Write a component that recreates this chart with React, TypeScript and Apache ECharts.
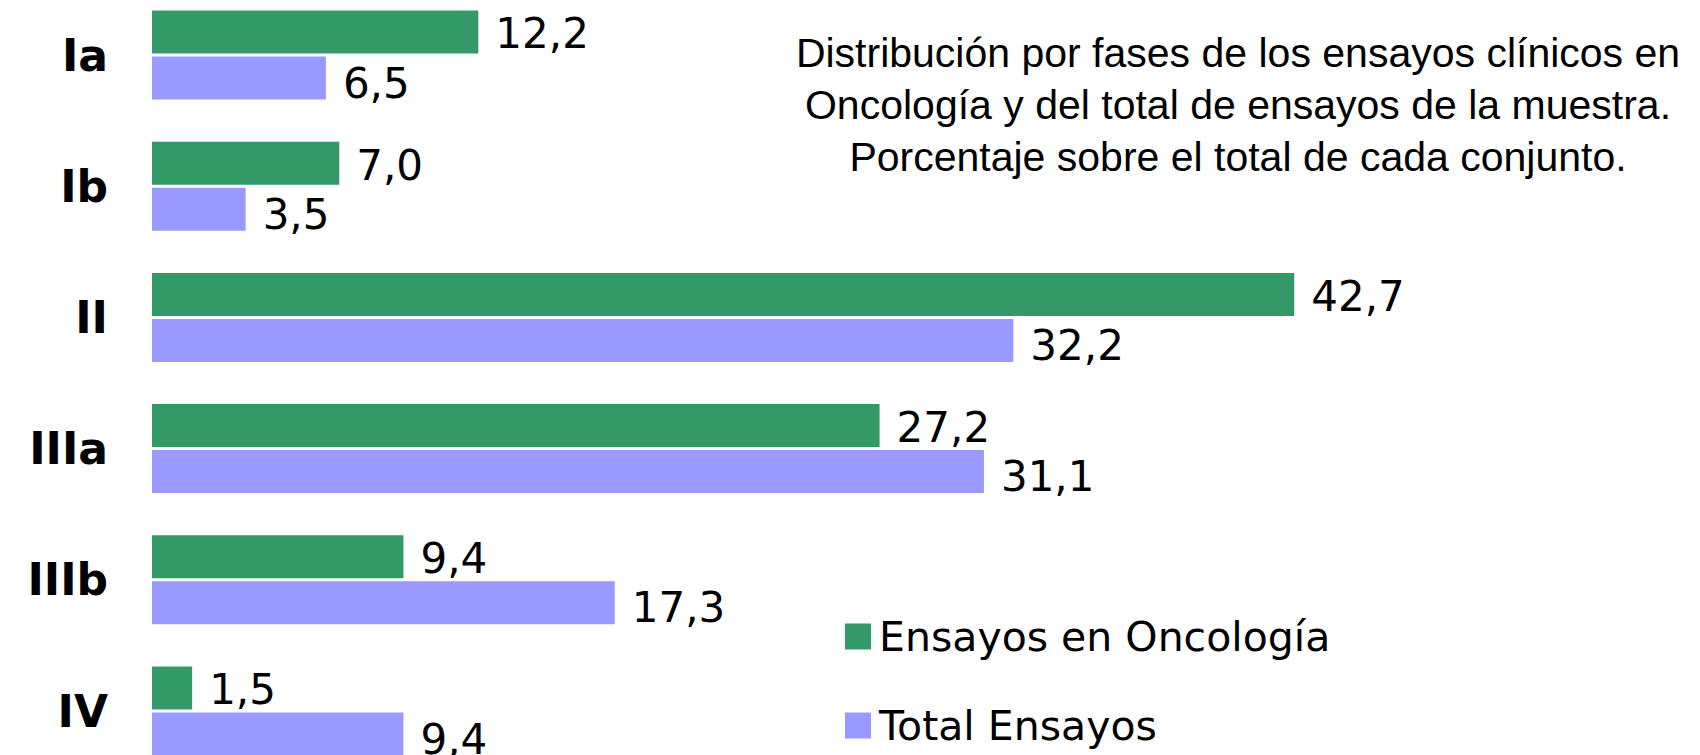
import React, { useEffect, useRef } from "react";
import * as echarts from "echarts";

const categories = ["Ia", "Ib", "II", "IIIa", "IIIb", "IV"];
const oncologia = [12.2, 7.0, 42.7, 27.2, 9.4, 1.5];
const total = [6.5, 3.5, 32.2, 31.1, 17.3, 9.4];
const seriesNames = ["Ensayos en Oncología", "Total Ensayos"];
const titleLines = [
  "Distribución por fases de los ensayos clínicos en",
  "Oncología y del total de ensayos de la muestra.",
  "Porcentaje sobre el total de cada conjunto.",
];

const fmt = (p: any) => Number(p.value).toFixed(1).replace(".", ",");

export default function App() {
  const ref = useRef<HTMLDivElement>(null);
  useEffect(() => {
    document.body.style.margin = "0";
    const chart = echarts.init(ref.current!, null, { renderer: "svg" });
    const labelBase = {
      show: true,
      position: "right" as const,
      distance: 17,
      formatter: fmt,
      color: "#000",
      fontFamily: "'DejaVu Sans', sans-serif",
      fontSize: 42,
    };
    chart.setOption({
      animation: false,
      backgroundColor: "#ffffff",
      grid: {
        left: 152,
        right: 210.5,
        top: -10.6,
        bottom: -21.6,
        containLabel: false,
        outerBoundsMode: "none",
      },
      xAxis: {
        type: "value",
        min: 0,
        max: 50,
        show: false,
        splitLine: { show: false },
      },
      yAxis: {
        type: "category",
        data: categories,
        inverse: true,
        axisLine: { show: false },
        axisTick: { show: false },
        axisLabel: {
          margin: 44,
          color: "#000",
          fontFamily: "'DejaVu Sans', sans-serif",
          fontWeight: "bold",
          fontSize: 44,
        },
      },
      legend: {
        orient: "vertical",
        left: 845,
        top: 616,
        height: 135,
        padding: 0,
        itemWidth: 26,
        itemHeight: 26,
        itemGap: 48,
        icon: "rect",
        data: seriesNames,
        textStyle: {
          color: "#000",
          fontFamily: "'DejaVu Sans', sans-serif",
          fontSize: 41,
          lineHeight: 40,
          padding: [0, 0, 0, 3],
        },
      },
      graphic: [
        {
          type: "text",
          x: 1238,
          y: 105,
          style: {
            text: titleLines.join("\n"),
            fill: "#000",
            font: "41px 'Liberation Sans', sans-serif",
            lineHeight: 52,
            align: "center",
            verticalAlign: "middle",
          },
        },
      ],
      series: [
        {
          name: seriesNames[0],
          type: "bar",
          data: oncologia,
          barWidth: 43,
          barGap: "7%",
          itemStyle: { color: "#339966" },
          label: { ...labelBase, offset: [0, 2] },
        },
        {
          name: seriesNames[1],
          type: "bar",
          data: total,
          barWidth: 43,
          barGap: "7%",
          itemStyle: { color: "#9999FF" },
          label: { ...labelBase, offset: [0, 5] },
        },
      ],
    });
    return () => chart.dispose();
  }, []);
  return <div ref={ref} style={{ width: 1700, height: 755 }} />;
}
